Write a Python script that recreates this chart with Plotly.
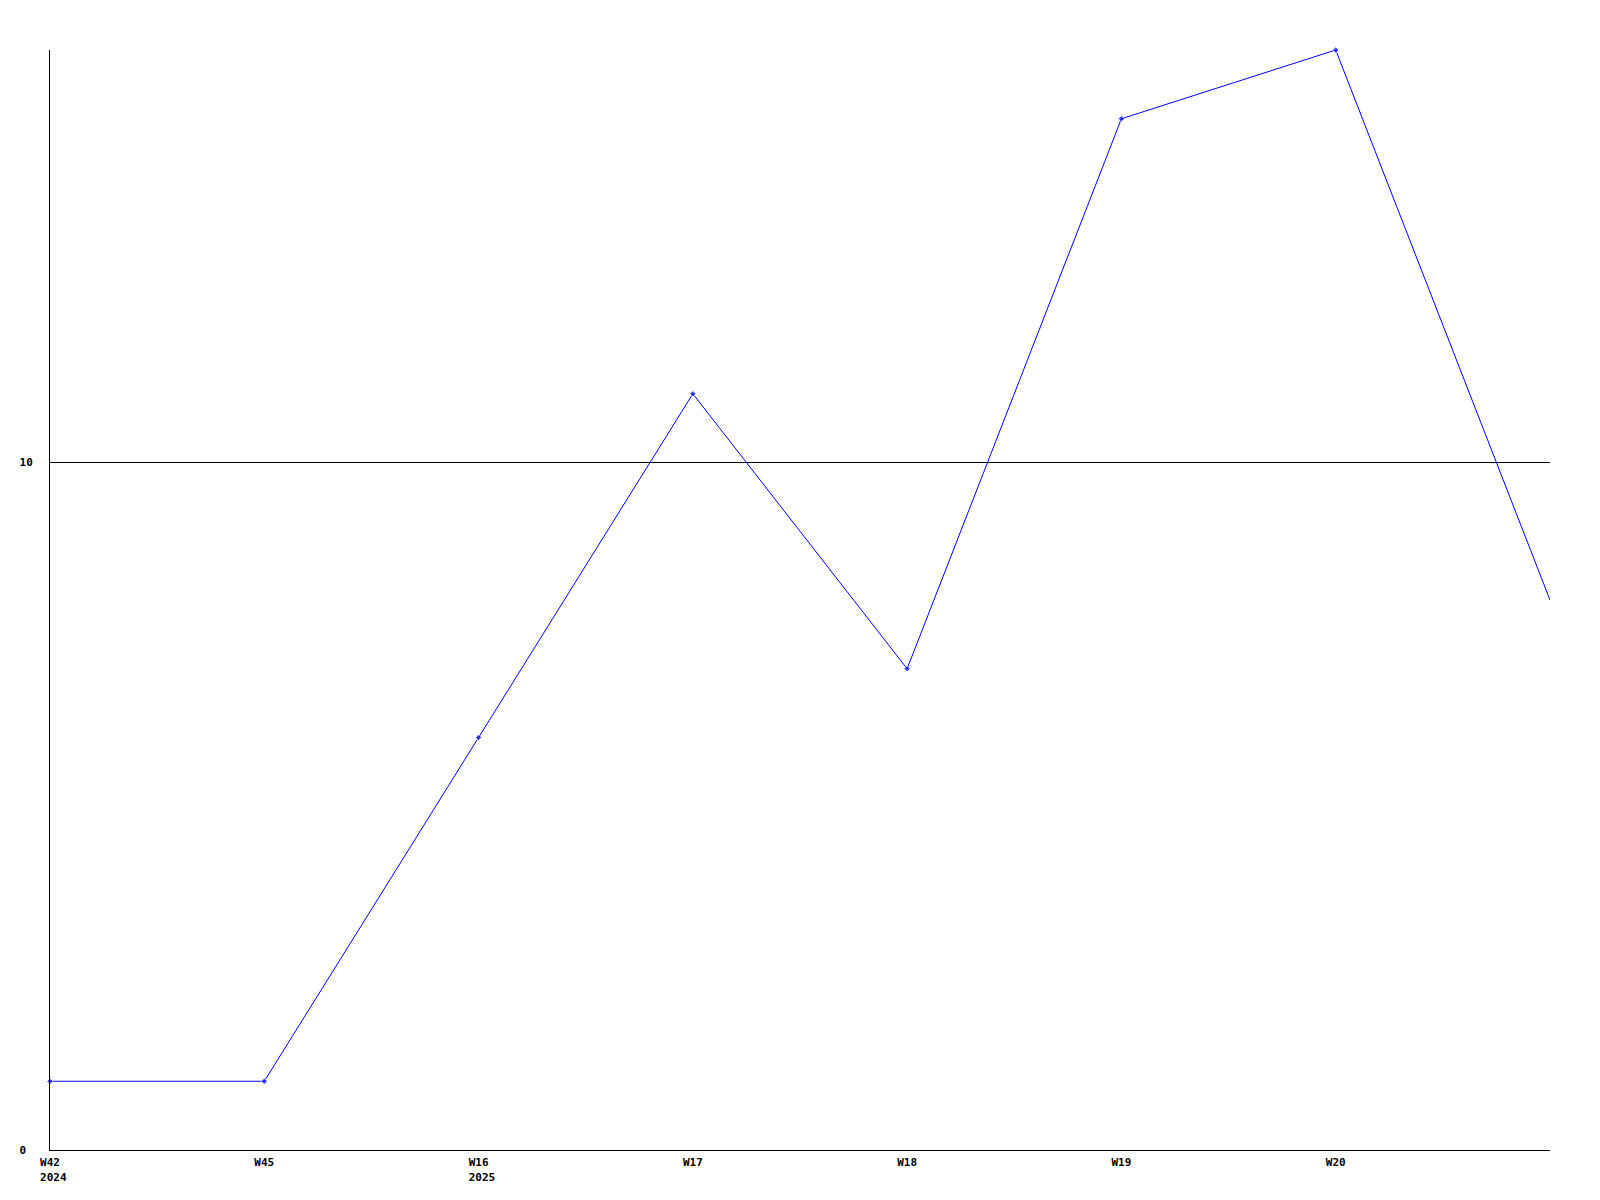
import plotly.graph_objects as go

categories = ["W42", "W45", "W16", "W17", "W18", "W19", "W20", "W21"]
years = ["2024", "", "2025", "", "", "", "", ""]
values = [1, 1, 6, 11, 7, 15, 16, 8]
y_ticks = [0, 10]

x = list(range(len(categories)))
tick_text = []
for c, yr in zip(categories, years):
    if yr:
        tick_text.append(c + "<br>\u00a0" + yr)
    else:
        tick_text.append(c)

y_text = [str(v) + "\u00a0" * (2 - len(str(v))) for v in y_ticks]

marker_sizes = [5] * (len(values) - 1) + [0]

fig = go.Figure()
fig.add_trace(go.Scatter(
    x=x, y=values, mode="lines+markers",
    line=dict(color="#0000ff", width=1),
    marker=dict(color="#0000ff", size=marker_sizes, symbol="diamond"),
    cliponaxis=False,
))

font = dict(family="DejaVu Sans Mono", size=11, color="#000000", weight="bold")

fig.update_layout(
    width=1600, height=1200,
    margin=dict(l=42, r=58, t=42, b=58),
    paper_bgcolor="white", plot_bgcolor="white",
    showlegend=False,
    font=font,
    xaxis=dict(
        range=[0, len(categories) - 1],
        tickmode="array",
        tickvals=x[:-1],
        ticktext=tick_text[:-1],
        showgrid=False, zeroline=False,
        showline=True, linecolor="#000000", linewidth=1,
        ticks="", tickfont=font,
        ticklabelstandoff=2,
    ),
    yaxis=dict(
        range=[0, 16],
        tickmode="array",
        tickvals=y_ticks,
        ticktext=y_text,
        showgrid=True, gridcolor="#000000", gridwidth=1,
        zeroline=False,
        showline=True, linecolor="#000000", linewidth=1,
        ticks="", ticklen=0, tickfont=font,
        ticklabelstandoff=14,
    ),
)

fig.write_html("out.html")
